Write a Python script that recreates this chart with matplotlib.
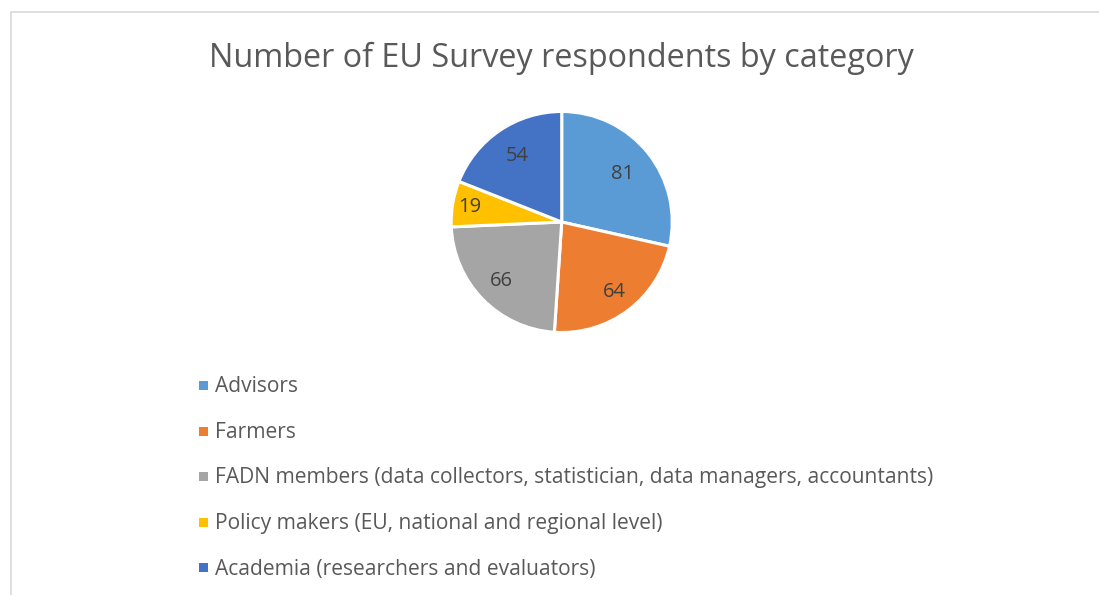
import matplotlib
matplotlib.use("Agg")
import matplotlib.pyplot as plt
from matplotlib.patches import Rectangle
import numpy as np

categories = ["Advisors", "Farmers",
              "FADN members (data collectors, statistician, data managers, accountants)",
              "Policy makers (EU, national and regional level)",
              "Academia (researchers and evaluators)"]
values = [81, 64, 66, 19, 54]
colors = ["#5B9BD5", "#ED7D31", "#A5A5A5", "#FFC000", "#4472C4"]
title = "Number of EU Survey respondents by category"
label_dist = [0.70, 0.79, 0.76, 0.84, 0.72]

W, H = 1099, 595
fig = plt.figure(figsize=(W / 100, H / 100), dpi=100)
fig.patch.set_facecolor("white")
font = ["Open Sans", "DejaVu Sans"]
txt_color = "#595959"

# border
fig.add_artist(Rectangle((10.5 / W, -0.1), 1.2, 1 - 11.5 / H + 0.1, transform=fig.transFigure,
                         fill=False, edgecolor="#D9D9D9", linewidth=1.2))

fig.text(561 / W, 1 - 58 / H, title, ha="center", va="center", fontsize=23.3,
         color=txt_color, family=font)

cx, cy, r = 561.7, 222, 110.5
ax = fig.add_axes([(cx - r) / W, (H - cy - r) / H, 2 * r / W, 2 * r / H])
wedges, _ = ax.pie(values, colors=colors, startangle=90, counterclock=False,
                   radius=1, wedgeprops=dict(edgecolor="white", linewidth=2.2))
ax.set_xlim(-1, 1)
ax.set_ylim(-1, 1)
ax.set_aspect("equal")
ax.axis("off")
for w, v, d in zip(wedges, values, label_dist):
    ang = np.deg2rad((w.theta1 + w.theta2) / 2)
    ax.text(d * np.cos(ang), d * np.sin(ang), str(v), ha="center", va="center",
            fontsize=14.5, color="#404040", family=font)

ys = [385, 431, 476, 522, 567]
for y, c, lab in zip(ys, colors, categories):
    fig.add_artist(Rectangle(((203.5 - 4.5) / W, (H - y - 4.5) / H), 9 / W, 9 / H,
                             transform=fig.transFigure, facecolor=c, edgecolor="none"))
    fig.text(215 / W, 1 - (y + 2) / H, lab, ha="left", va="center", fontsize=15.1,
             color=txt_color, family=font)

fig.savefig("out.png", dpi=100)
